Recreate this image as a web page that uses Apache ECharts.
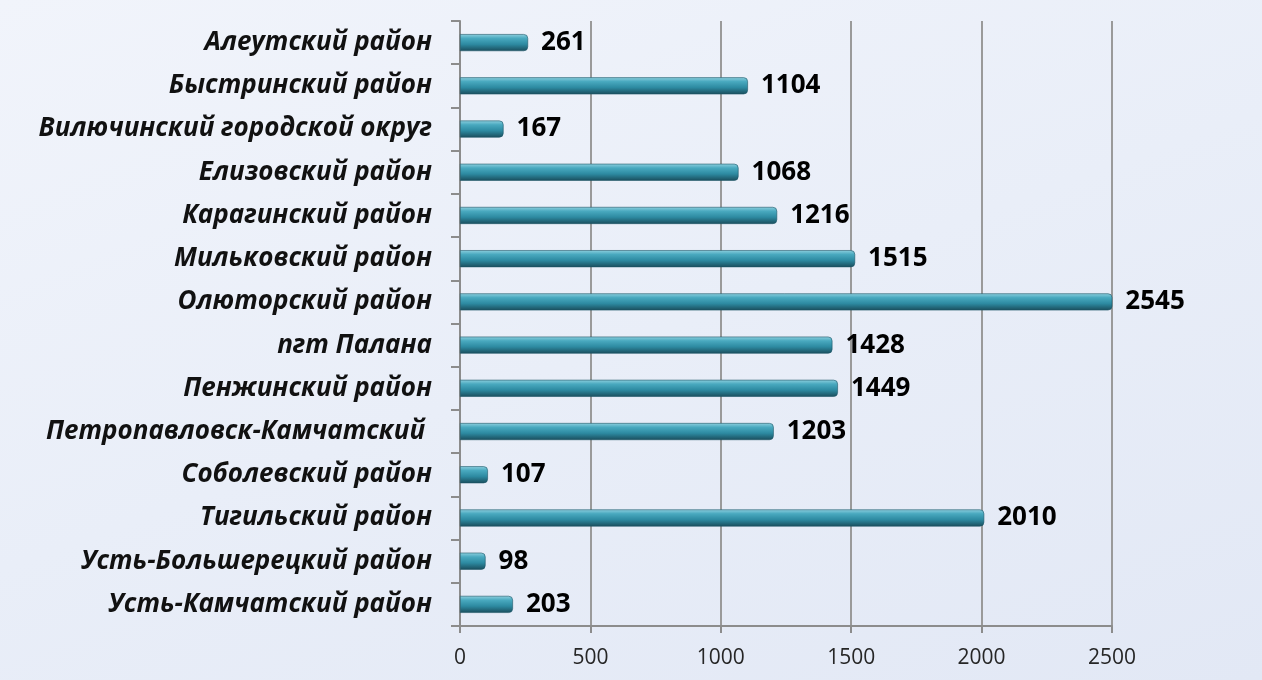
<!DOCTYPE html>
<html>
<head>
<meta charset="utf-8">
<script src="https://cdn.jsdelivr.net/npm/echarts@6/dist/echarts.min.js"></script>
<style>
  html, body { margin: 0; padding: 0; }
  #chart { width: 1262px; height: 680px; background: linear-gradient(160deg, #f1f4fb 0%, #e9eef8 50%, #e2e8f5 100%); }
</style>
</head>
<body>
<div id="chart"></div>
<script>
var districts = [
  'Алеутский район',
  'Быстринский район',
  'Вилючинский городской округ',
  'Елизовский район',
  'Карагинский район',
  'Мильковский район',
  'Олюторский район',
  'пгт Палана',
  'Пенжинский район',
  'Петропавловск-Камчатский ',
  'Соболевский район',
  'Тигильский район',
  'Усть-Большерецкий район',
  'Усть-Камчатский район'
];
var values = [261, 1104, 167, 1068, 1216, 1515, 2545, 1428, 1449, 1203, 107, 2010, 98, 203];
var xTicks = [0, 500, 1000, 1500, 2000, 2500];

var chart = echarts.init(document.getElementById('chart'));

var option = {
  backgroundColor: 'transparent',
  animation: false,
  grid: {
    left: 460,
    right: 150,
    top: 21,
    bottom: 54
  },
  xAxis: {
    type: 'value',
    min: 0,
    max: 2500,
    interval: 500,
    axisLine: { show: true, lineStyle: { color: '#8c8c8c', width: 2 } },
    axisTick: { show: true, length: 7, lineStyle: { color: '#8c8c8c', width: 2 } },
    axisLabel: {
      color: '#262626',
      fontSize: 21,
      fontFamily: 'Open Sans',
      margin: 22,
      formatter: function (v) { return xTicks.indexOf(v) >= 0 ? String(v) : ''; }
    },
    splitLine: { show: true, lineStyle: { color: '#9a9a9a', width: 2 } }
  },
  yAxis: {
    type: 'category',
    data: districts,
    inverse: true,
    axisLine: { show: true, lineStyle: { color: '#8c8c8c', width: 2 } },
    axisTick: { show: true, length: 9, lineStyle: { color: '#8c8c8c', width: 2 } },
    axisLabel: {
      color: '#111',
      fontSize: 26,
      fontStyle: 'italic',
      fontWeight: 'bold',
      fontFamily: 'Open Sans',
      margin: 28
    }
  },
  series: [{
    type: 'bar',
    data: values,
    barWidth: 17,
    itemStyle: {
      borderRadius: [0, 4, 4, 0],
      borderColor: '#1c5566',
      borderWidth: 0.6,
      color: new echarts.graphic.LinearGradient(0, 0, 0, 1, [
        { offset: 0, color: '#8fd0df' },
        { offset: 0.25, color: '#49a9bf' },
        { offset: 0.6, color: '#2d8aa1' },
        { offset: 1, color: '#1a4d5c' }
      ])
    },
    label: {
      show: true,
      position: 'right',
      distance: 13,
      color: '#000',
      fontSize: 26,
      fontWeight: 'bold',
      fontFamily: 'Open Sans'
    }
  }]
};

chart.setOption(option);
</script>
</body>
</html>
